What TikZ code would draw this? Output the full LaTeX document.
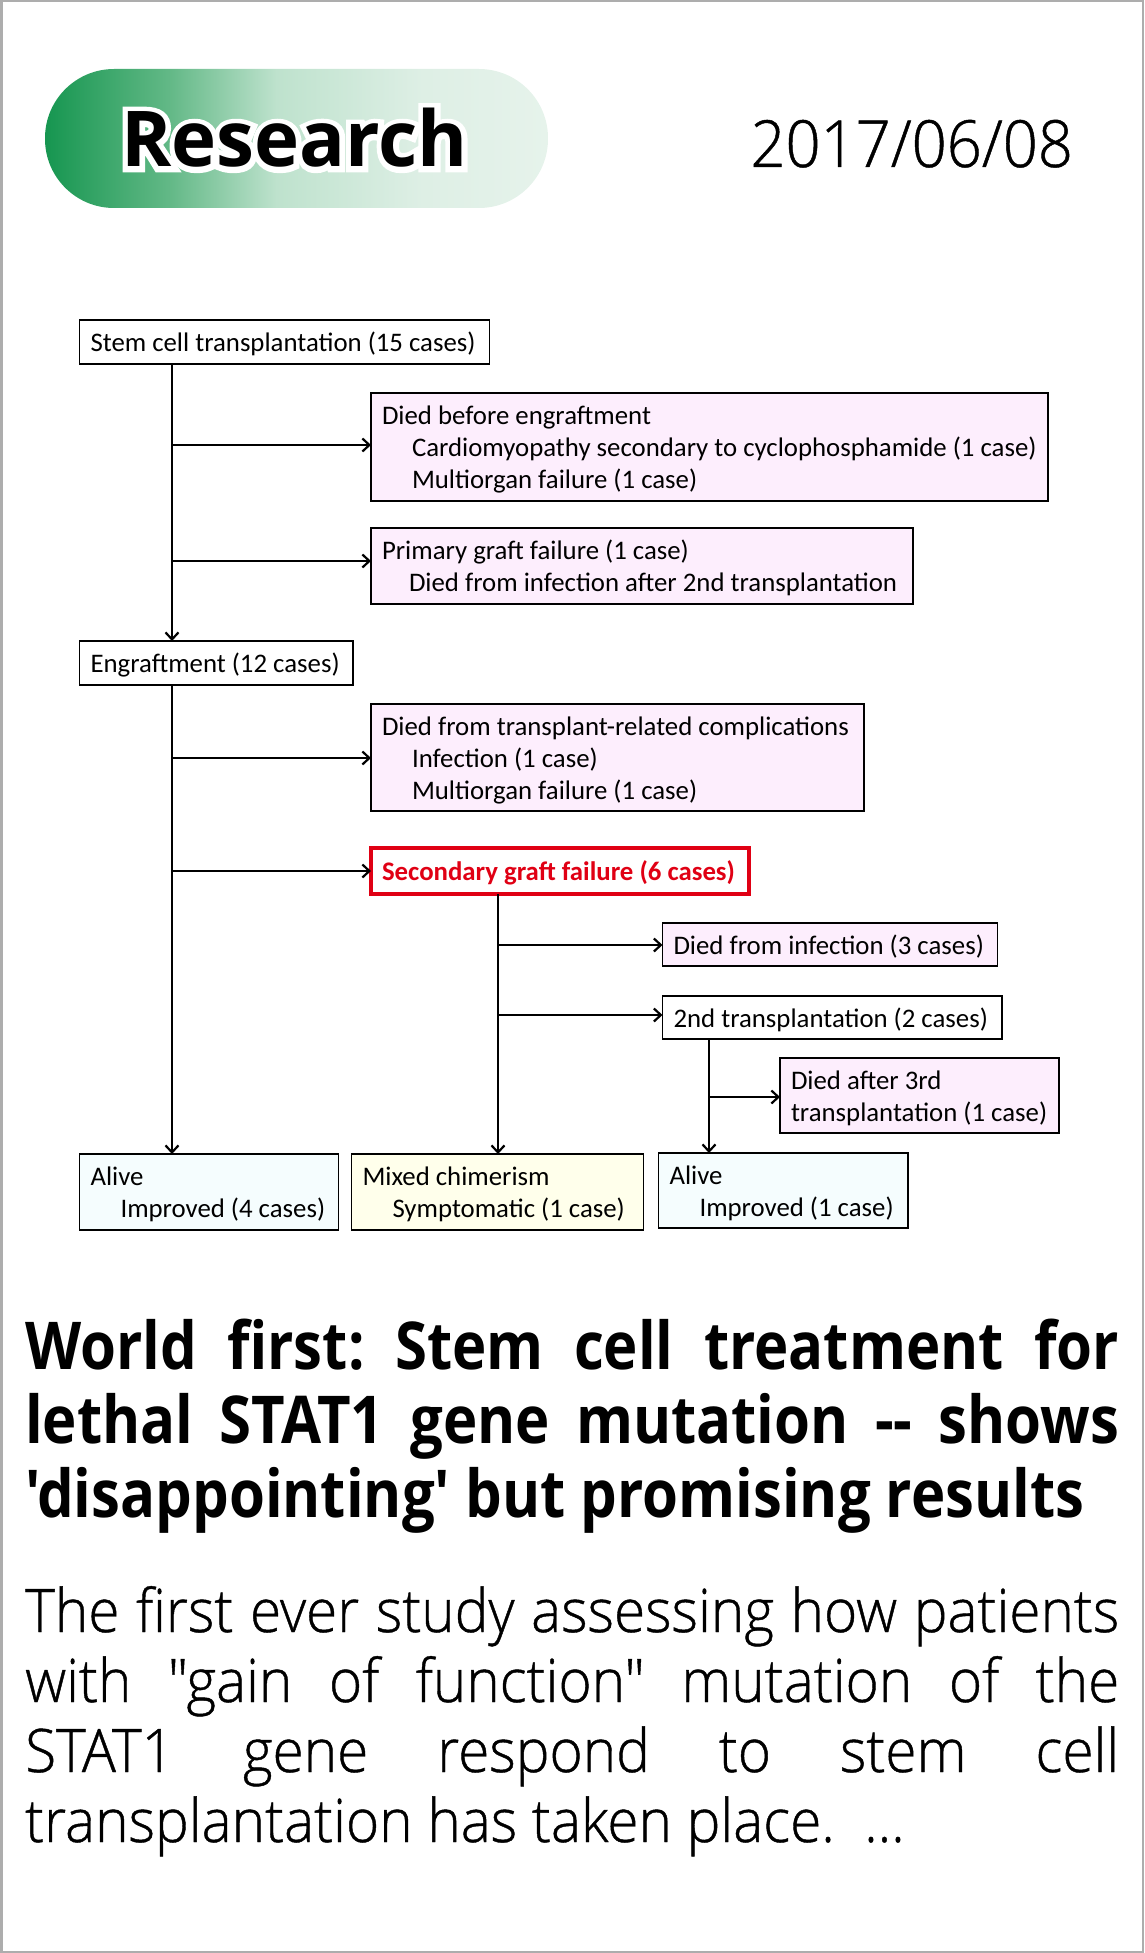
\documentclass[tikz,border=0pt]{standalone}
\usepackage{fontspec}
\usetikzlibrary{positioning}
\usetikzlibrary{arrows.meta}
\setmainfont{Carlito}
\newfontfamily\titleface{Open Sans}[FakeStretch=0.88]
\newfontfamily\labelface{Open Sans}[FakeStretch=0.99]
\newfontfamily\haloface{Open Sans}[FakeStretch=0.99,BoldFeatures={FakeBold=14}]
\newfontfamily\thinface{Open Sans Light}[FakeStretch=0.945,FakeBold=0.7]
\definecolor{deadfill}{RGB}{253,238,253}
\definecolor{alivefill}{RGB}{245,253,254}
\definecolor{mixedfill}{RGB}{255,255,235}
\definecolor{alertred}{RGB}{224,0,20}
\pgfdeclarehorizontalshading{researchfill}{100bp}{
  rgb(0bp)=(0.086,0.588,0.314);
  rgb(25bp)=(0.086,0.588,0.314);
  rgb(37.5bp)=(0.39,0.725,0.53);
  rgb(48bp)=(0.745,0.886,0.804);
  rgb(62.5bp)=(0.87,0.937,0.898);
  rgb(75bp)=(0.902,0.953,0.922);
  rgb(100bp)=(0.902,0.953,0.922)}
\tikzstyle{block} = [draw, rectangle, anchor=north west, outer sep=0pt, inner xsep=11pt, inner ysep=0pt, align=left, font=\fontsize{26.8}{32}\selectfont, execute at begin node={\spaceskip=0pt\xspaceskip=0pt\rule{0pt}{24pt}}, line width=1.6pt]
\tikzstyle{dead} = [block, fill=deadfill]
\tikzstyle{alive} = [block, fill=alivefill]
\tikzstyle{coord} = [coordinate]
\tikzstyle{link} = [->, line width=2.2pt, >={Straight Barb[length=7pt,width=13pt]}]
\tikzstyle{para} = [anchor=base west, inner sep=0pt, text width=1094pt, align=justify, execute at begin node={\hyphenpenalty=10000\frenchspacing}]
\begin{document}
\begin{tikzpicture}[x=1pt,y=-1pt]
    \useasboundingbox (0,0) rectangle (1144,1953);
    \node [draw=black!32, line width=2.5pt, anchor=north west, outer sep=0pt, inner sep=0pt, minimum width=1141.5pt, minimum height=1950.5pt] (frame) at (1.25,1.25) {};

    \node [shade, shading=researchfill, rectangle, rounded corners=69pt, anchor=north west, outer sep=0pt, minimum width=503pt, minimum height=139pt] (pill) at (45,69) {};
    \node [inner sep=0pt, anchor=base west] (research) at (121,167) {\fontsize{77}{77}\selectfont\rlap{\haloface\bfseries\color{white}Research}\labelface\bfseries Research};
    \node [inner sep=0pt, anchor=base east] (date) at (1073,167) {\fontsize{65}{65}\thinface 2017/06/08};

    \node [block, minimum width=410pt, text width=388pt, minimum height=44pt] (stem) at (79.5,320) {Stem cell transplantation (15 cases)};
    \node [dead, minimum width=677pt, text width=655pt, minimum height=108pt, below right = 29pt and 291.5pt of stem.south west] (before) {Died before engraftment\\\hspace*{30pt}Cardiomyopathy secondary to cyclophosphamide (1 case)\\\hspace*{30pt}Multiorgan failure (1 case)};
    \node [dead, minimum width=542pt, text width=520pt, minimum height=76pt, below = 27pt of before.south west, anchor=north west] (primary) {Primary graft failure (1 case)\\\hspace*{27pt}Died from infection after 2nd transplantation};
    \node [block, minimum width=273.5pt, text width=251.5pt, minimum height=44pt] (engraft) at (79.5,641) {Engraftment (12 cases)};
    \node [dead, minimum width=493pt, text width=471pt, minimum height=107pt, below right = 19pt and 291.5pt of engraft.south west] (related) {Died from transplant-related complications\\\hspace*{30pt}Infection (1 case)\\\hspace*{30pt}Multiorgan failure (1 case)};
    \node [block, draw=alertred, line width=4pt, text=alertred, minimum width=378pt, text width=356pt, minimum height=46pt, below = 37pt of related.south west, anchor=north west] (secondary) {\textbf{Secondary graft failure (6 cases)}};
    \node [dead, minimum width=335pt, text width=313pt, minimum height=43pt] (infection) at (662.5,923) {Died from infection (3 cases)};
    \node [block, minimum width=339.5pt, text width=317.5pt, minimum height=43pt, below = 30pt of infection.south west, anchor=north west] (second) {2nd transplantation (2 cases)};
    \node [dead, minimum width=279pt, text width=257pt, minimum height=75pt] (third) at (780,1058) {Died after 3rd\\transplantation (1 case)};
    \node [alive, minimum width=259pt, text width=237pt, minimum height=76pt] (alive) at (79.5,1154) {Alive\\\hspace*{30pt}Improved (4 cases)};
    \node [block, fill=mixedfill, minimum width=292pt, text width=270pt, minimum height=76pt, right = 13pt of alive.north east, anchor=north west] (mixed) {Mixed chimerism\\\hspace*{30pt}Symptomatic (1 case)};
    \node [alive, minimum width=249.5pt, text width=227.5pt, minimum height=75pt] (alive1) at (658.5,1153) {Alive\\\hspace*{30pt}Improved (1 case)};

    % connections
    \node [coord] (branch1) at (172,445) {};
    \node [coord] (branch2) at (172,561) {};
    \node [coord] (branch3) at (172,758) {};
    \node [coord] (branch4) at (172,871) {};
    \node [coord] (branch5) at (498,945) {};
    \node [coord] (branch6) at (498,1015) {};
    \node [coord] (branch7) at (709,1097) {};

    \draw [link] (stem.south west -| branch1) -- (engraft.north west -| branch1);
    \draw [link] (engraft.south west -| branch1) -- (alive.north west -| branch1);
    \draw [link] (branch1) -- (branch1 -| before.west);
    \draw [link] (branch2) -- (branch2 -| primary.west);
    \draw [link] (branch3) -- (branch3 -| related.west);
    \draw [link] (branch4) -- (branch4 -| secondary.west);
    \draw [link] (secondary.south west -| branch5) -- (mixed.north west -| branch5);
    \draw [link] (branch5) -- (branch5 -| infection.west);
    \draw [link] (branch6) -- (branch6 -| second.west);
    \draw [link] (second.south west -| branch7) -- (alive1.north west -| branch7);
    \draw [link] (branch7) -- (branch7 -| third.west);

    \node [para, font=\fontsize{66}{74}\selectfont\titleface\bfseries] (title) at (25,1369) {World first: Stem cell treatment for\linebreak lethal STAT1 gene mutation -- shows\linebreak 'disappointing' but promising results};
    \node [para, font=\fontsize{60}{70}\selectfont\thinface] (summary) at (25,1632) {The first ever study assessing how patients\linebreak with "gain of function" mutation of the\linebreak STAT1 gene respond to stem cell\linebreak transplantation has taken place.\ \ ...};
\end{tikzpicture}
\end{document}
